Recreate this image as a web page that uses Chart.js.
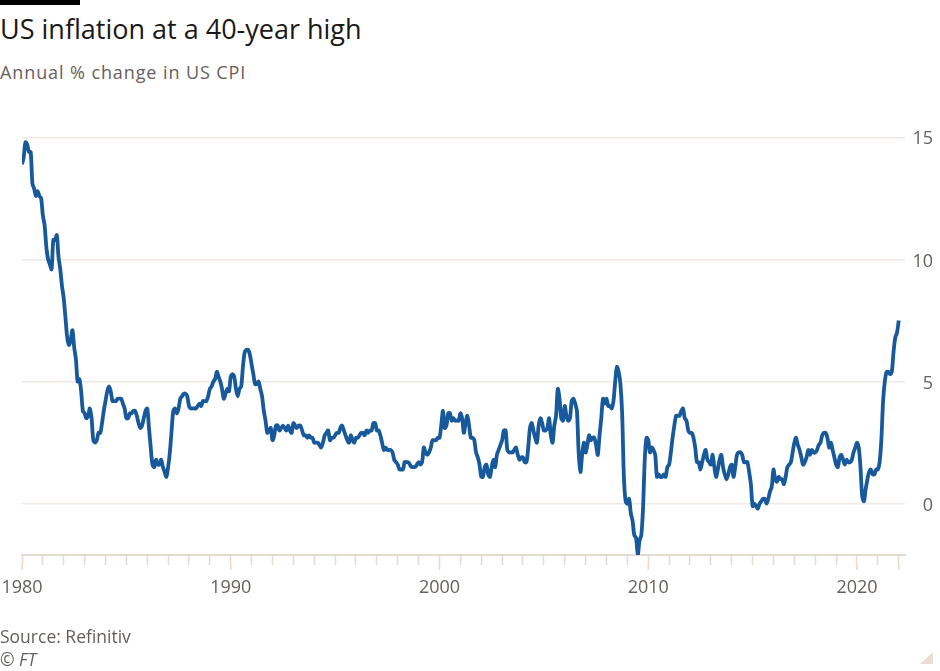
<!DOCTYPE html>
<html>
<head>
<meta charset="utf-8">
<script src="https://cdn.jsdelivr.net/npm/chart.js@4"></script>
<style>
  html, body { margin: 0; padding: 0; background: #fff; }
  body { width: 940px; height: 671px; position: relative; overflow: hidden; font-family: "Open Sans", sans-serif; }
  #chart { position: absolute; left: 0; top: 0; }
  .bar { position: absolute; left: 0; top: 0; width: 80px; height: 5px; background: #000; }
  .title { position: absolute; left: 0; top: 10px; font-size: 27px; color: #1a1817; white-space: nowrap; }
  .subtitle { position: absolute; left: 0; top: 60px; font-size: 18px; letter-spacing: 0.9px; color: #66605c; white-space: nowrap; }
  .source { position: absolute; left: 0; top: 625px; font-size: 17.5px; color: #66605c; line-height: 23px; }
  .source i { font-style: italic; }
  .corner { position: absolute; left: 920px; top: 652px; width: 0; height: 0;
            border-left: 13px solid transparent; border-bottom: 12px solid #eaddd3; }
</style>
</head>
<body>
<div class="bar"></div>
<div class="title">US inflation at a 40-year high</div>
<div class="subtitle">Annual % change in US CPI</div>
<canvas id="chart" width="940" height="671"></canvas>
<div class="source">Source: Refinitiv<br><i>© FT</i></div>
<div class="corner"></div>
<script>
// Monthly annual % change in US CPI, starting January 1980
const startYear = 1980;

const cpi1980s = [
  13.9, 14.2, 14.8, 14.7, 14.4, 14.4, 13.1, 12.9, 12.6, 12.8, 12.6, 12.5,
  11.8, 11.4, 10.5, 10.0, 9.8, 9.6, 10.8, 10.8, 11.0, 10.1, 9.6, 8.9,
  8.4, 7.6, 6.8, 6.5, 6.7, 7.1, 6.4, 5.9, 5.0, 5.1, 4.6, 3.8,
  3.7, 3.5, 3.6, 3.9, 3.5, 2.6, 2.5, 2.6, 2.9, 2.9, 3.3, 3.8,
  4.2, 4.6, 4.8, 4.6, 4.2, 4.2, 4.2, 4.3, 4.3, 4.3, 4.1, 3.9,
  3.5, 3.5, 3.7, 3.7, 3.8, 3.8, 3.6, 3.3, 3.1, 3.2, 3.5, 3.8,
  3.9, 3.1, 2.3, 1.6, 1.5, 1.8, 1.6, 1.6, 1.8, 1.5, 1.3, 1.1,
  1.5, 2.1, 3.0, 3.8, 3.9, 3.7, 3.9, 4.3, 4.4, 4.5, 4.5, 4.4,
  4.0, 3.9, 3.9, 3.9, 3.9, 4.0, 4.1, 4.0, 4.2, 4.2, 4.2, 4.4,
  4.7, 4.8, 5.0, 5.1, 5.4, 5.2, 5.0, 4.7, 4.3, 4.5, 4.7, 4.6
];
const cpi1990s = [
  5.2, 5.3, 5.2, 4.7, 4.4, 4.7, 4.8, 5.6, 6.2, 6.3, 6.3, 6.1,
  5.7, 5.3, 4.9, 4.9, 5.0, 4.7, 4.4, 3.8, 3.4, 2.9, 3.0, 3.1,
  2.6, 2.8, 3.2, 3.2, 3.0, 3.1, 3.2, 3.1, 3.0, 3.2, 3.0, 2.9,
  3.3, 3.2, 3.1, 3.2, 3.2, 3.0, 2.8, 2.8, 2.7, 2.8, 2.7, 2.7,
  2.5, 2.5, 2.5, 2.4, 2.3, 2.5, 2.8, 2.9, 3.0, 2.6, 2.7, 2.7,
  2.8, 2.9, 2.9, 3.1, 3.2, 3.0, 2.8, 2.6, 2.5, 2.8, 2.6, 2.5,
  2.7, 2.7, 2.8, 2.9, 2.9, 2.8, 3.0, 2.9, 3.0, 3.0, 3.3, 3.3,
  3.0, 3.0, 2.8, 2.5, 2.2, 2.3, 2.2, 2.2, 2.2, 2.1, 1.8, 1.7,
  1.6, 1.4, 1.4, 1.4, 1.7, 1.7, 1.7, 1.6, 1.5, 1.5, 1.5, 1.6,
  1.7, 1.6, 1.7, 2.3, 2.1, 2.0, 2.1, 2.3, 2.6, 2.6, 2.6, 2.7
];
const cpi2000s = [
  2.7, 3.2, 3.8, 3.1, 3.2, 3.7, 3.7, 3.4, 3.5, 3.4, 3.4, 3.4,
  3.7, 3.5, 2.9, 3.3, 3.6, 3.2, 2.7, 2.7, 2.6, 2.1, 1.9, 1.6,
  1.1, 1.1, 1.5, 1.6, 1.2, 1.1, 1.5, 1.8, 1.5, 2.0, 2.2, 2.4,
  2.6, 3.0, 3.0, 2.2, 2.1, 2.1, 2.1, 2.2, 2.3, 2.0, 1.8, 1.9,
  1.9, 1.7, 1.7, 2.3, 3.1, 3.3, 3.0, 2.7, 2.5, 3.2, 3.5, 3.3,
  3.0, 3.0, 3.1, 3.5, 2.8, 2.5, 3.2, 3.6, 4.7, 4.3, 3.5, 3.4,
  4.0, 3.6, 3.4, 3.5, 4.2, 4.3, 4.1, 3.8, 2.1, 1.3, 2.0, 2.5,
  2.1, 2.4, 2.8, 2.6, 2.7, 2.7, 2.4, 2.0, 2.8, 3.5, 4.3, 4.1,
  4.3, 4.0, 4.0, 3.9, 4.2, 5.0, 5.6, 5.4, 4.9, 3.7, 1.1, 0.1,
  0.0, 0.2, -0.4, -0.7, -1.3, -1.4, -2.1, -1.5, -1.3, -0.2, 1.8, 2.7
];
const cpi2010s = [
  2.6, 2.1, 2.3, 2.2, 2.0, 1.1, 1.2, 1.1, 1.1, 1.2, 1.1, 1.5,
  1.6, 2.1, 2.7, 3.2, 3.6, 3.6, 3.6, 3.8, 3.9, 3.5, 3.4, 3.0,
  2.9, 2.9, 2.7, 2.3, 1.7, 1.7, 1.4, 1.7, 2.0, 2.2, 1.8, 1.7,
  1.6, 2.0, 1.5, 1.1, 1.4, 1.8, 2.0, 1.5, 1.2, 1.0, 1.2, 1.5,
  1.6, 1.1, 1.5, 2.0, 2.1, 2.1, 2.0, 1.7, 1.7, 1.7, 1.3, 0.8,
  -0.1, 0.0, -0.1, -0.2, 0.0, 0.1, 0.2, 0.2, 0.0, 0.2, 0.5, 0.7,
  1.4, 1.0, 0.9, 1.1, 1.0, 1.0, 0.8, 1.1, 1.5, 1.6, 1.7, 2.1,
  2.5, 2.7, 2.4, 2.2, 1.9, 1.6, 1.7, 1.9, 2.2, 2.0, 2.2, 2.1,
  2.1, 2.2, 2.4, 2.5, 2.8, 2.9, 2.9, 2.7, 2.3, 2.5, 2.2, 1.9,
  1.6, 1.5, 1.9, 2.0, 1.8, 1.6, 1.8, 1.7, 1.7, 1.8, 2.1, 2.3
];
const cpi2020s = [
  2.5, 2.3, 1.5, 0.3, 0.1, 0.6, 1.0, 1.3, 1.4, 1.2, 1.2, 1.4,
  1.4, 1.7, 2.6, 4.2, 5.0, 5.4, 5.4, 5.3, 5.4, 6.2, 6.8, 7.0,
  7.5
];

const yTicks = [0, 5, 10, 15];
const xLabelYears = [1980, 1990, 2000, 2010, 2020];
const longTickYears = [1980, 1990, 2000, 2010, 2020, 2022];

const cpiValues = [].concat(cpi1980s, cpi1990s, cpi2000s, cpi2010s, cpi2020s);
const points = cpiValues.map((v, i) => ({ x: startYear + i / 12, y: v }));

const gridColour = '#f0e9e3';
const tickColour = '#e3dad2';
const labelColour = '#66605c';

// decade ticks (and the last one) are a bit longer than the yearly ones
const longTicks = {
  id: 'longTicks',
  afterDraw(chart) {
    const x = chart.scales.x;
    const ctx = chart.ctx;
    ctx.save();
    ctx.strokeStyle = tickColour;
    ctx.lineWidth = 1.5;
    longTickYears.forEach(year => {
      const px = x.getPixelForValue(year);
      ctx.beginPath();
      ctx.moveTo(px, x.top + 9);
      ctx.lineTo(px, x.top + 15);
      ctx.stroke();
    });
    ctx.restore();
  }
};

new Chart(document.getElementById('chart'), {
  type: 'line',
  data: {
    datasets: [{
      data: points,
      borderColor: '#17599b',
      borderWidth: 3.8,
      pointRadius: 0,
      tension: 0.3,
      fill: false
    }]
  },
  options: {
    responsive: false,
    animation: false,
    layout: { padding: { left: 22, top: 130, right: 7, bottom: 0 } },
    plugins: { legend: { display: false }, tooltip: { enabled: false } },
    scales: {
      x: {
        type: 'linear',
        min: 1980,
        max: 2022.3,
        afterFit: axis => {
          axis.height = 116;
          axis.paddingLeft = 0;
          axis.paddingRight = 0;
        },
        afterBuildTicks: axis => {
          const ticks = [];
          for (let y = 1980; y <= 2022; y++) ticks.push({ value: y });
          axis.ticks = ticks;
        },
        grid: {
          drawOnChartArea: false,
          drawTicks: true,
          tickLength: 10,
          tickColor: tickColour,
          tickWidth: 1.5
        },
        border: { display: true, color: tickColour, width: 2 },
        ticks: {
          autoSkip: false,
          maxRotation: 0,
          padding: 12,
          color: labelColour,
          font: { family: 'Open Sans', size: 18 },
          callback: value => xLabelYears.includes(value) ? String(value) : ''
        }
      },
      y: {
        position: 'right',
        min: -2.1,
        max: 15.3,
        afterFit: axis => { axis.width = 28; },
        afterBuildTicks: axis => { axis.ticks = yTicks.map(v => ({ value: v })); },
        grid: { color: gridColour, lineWidth: 1.5, drawTicks: false },
        border: { display: false },
        ticks: {
          padding: 4,
          crossAlign: 'far',
          labelOffset: 2,
          color: labelColour,
          font: { family: 'Open Sans', size: 18 }
        }
      }
    }
  },
  plugins: [longTicks]
});
</script>
</body>
</html>
